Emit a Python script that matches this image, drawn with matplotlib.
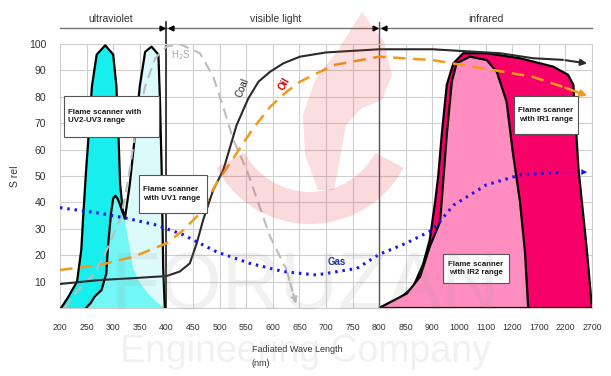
import numpy as np
import matplotlib
matplotlib.use('Agg')
import matplotlib.pyplot as plt
from matplotlib.patches import Wedge, Polygon, Rectangle

plt.rcParams['font.family'] = ['Liberation Sans', 'DejaVu Sans']

# x axis is not linear: every tick is one equal step
tick_nm = [200, 250, 300, 350, 400, 450, 500, 550, 600, 650, 700, 750, 800,
           850, 900, 1000, 1100, 1200, 1700, 2200, 2700]
y_ticks = [10, 20, 30, 40, 50, 60, 70, 80, 90, 100]

# UV2-UV3 scanner, first peak
uv23_nm = [202, 215, 232, 240, 244, 249, 254, 260, 269, 285, 300, 306, 310, 313, 318, 322]
uv23_val = [0, 4, 10, 22, 36, 52, 66, 84, 96, 99.5, 96, 84, 65, 47, 37, 34]
# UV2-UV3 scanner, second peak
uv23b_nm = [322, 331, 341, 350, 360, 372, 385, 388, 391, 394, 397]
uv23b_val = [34, 46.6, 65.5, 84, 97, 99, 96, 78, 53, 15, 0]
# UV1 scanner
uv1_nm = [249, 258, 265, 278, 287, 290, 296, 300, 304, 308, 312, 318, 322]
uv1_val = [0, 2, 4.3, 6.8, 13, 23, 36, 41.5, 42.5, 41.5, 39.6, 36, 34]
uv1_tail_nm = [322, 325, 331, 337, 347, 365, 384, 397]
uv1_tail_val = [34, 29.5, 23, 15.6, 10.6, 5.5, 1.8, 0]

# IR scanners
ir1_nm = [800, 839, 864, 883, 895, 910, 922, 935, 954, 979, 1016, 1104, 1346, 1973,
          2250, 2350, 2445, 2600, 2700]
ir1_val = [0, 3.7, 8, 16.9, 25.8, 40, 50, 65.5, 84.5, 92.7, 96.5, 96.5, 94.6, 91.4,
           88.3, 84.5, 52.9, 22.6, 0]
ir2_nm = [800, 852, 877, 895, 929, 954, 973, 991, 1041, 1104, 1142, 1179, 1210, 1346,
          1440, 1500]
ir2_val = [0, 5.5, 11.9, 23.2, 32.7, 65.5, 85.7, 92.7, 95.2, 93.9, 89.5, 78.1, 59.2,
           40.3, 21.3, 0]

# flame spectra
coal_nm = [200, 275, 338, 400, 425, 444, 457, 469, 488, 507, 532, 554, 573, 595, 620,
           651, 700, 800, 900, 1154, 1595, 2150, 2660]
coal_val = [9.1, 10.6, 11.3, 12.1, 13.8, 16.9, 24.5, 33.3, 44.7, 52.3, 69.3, 79.4,
            85.7, 89.5, 92.7, 95.2, 96.8, 98, 98, 96.5, 94.6, 94, 92.5]
oil_nm = [200, 275, 338, 400, 432, 463, 494, 513, 563, 595, 626, 651, 714, 800, 900,
          1090, 1580, 2150, 2660]
oil_val = [14.4, 16.3, 19.4, 24.5, 29.5, 35.9, 47.2, 52.9, 68, 76.2, 81.9, 85.7, 92,
           95.2, 93.9, 90.8, 87.6, 83.8, 80]
gas_nm = [200, 275, 325, 382, 432, 494, 557, 620, 682, 758, 800, 850, 900, 980, 1102,
          1345, 2080, 2660]
gas_val = [38, 35.9, 34, 31.4, 27.7, 21.3, 16.9, 13.8, 12.5, 15, 20.3, 24.5, 29.5, 39,
           46.6, 50.4, 51.4, 51.5]
h2s_nm = [209, 234, 265, 290, 315, 328, 341, 360, 379, 400, 425, 463, 488, 507, 526,
          551, 595, 626, 645]
h2s_val = [0, 6.8, 13, 23, 34.6, 48.5, 65.5, 84, 94.6, 99, 100, 96.5, 87.6, 76, 63.6,
           52.3, 27, 14.4, 0.5]


def pos(nm):
    return np.interp(nm, tick_nm, np.arange(len(tick_nm)))


fig = plt.figure(figsize=(6.11, 3.76), dpi=100)
ax = fig.add_axes([60 / 611, 1 - 308 / 376, 532 / 611, 264 / 376])
ax.set_xlim(0, 20)
ax.set_ylim(0, 100)

ax.set_xticks(np.arange(len(tick_nm)))
ax.set_xticklabels([str(t) for t in tick_nm], fontsize=6.3, color='#333333')
ax.set_yticks([0] + y_ticks)
ax.set_yticklabels([''] + [str(t) for t in y_ticks], fontsize=7.5, color='#333333')
ax.tick_params(axis='x', length=0, pad=11)
ax.tick_params(axis='y', length=0, pad=10)
ax.grid(True, color='#cfcfcf', lw=0.8)
ax.set_axisbelow(True)
for s in ax.spines.values():
    s.set_color('#cfcfcf')
    s.set_linewidth(0.8)

# UV fills
def poly(nm, val, **kw):
    xs = list(pos(nm))
    pts = list(zip(xs, val))
    ax.add_patch(Polygon(pts, closed=True, **kw))

pale_nm = [300] + uv23b_nm
pale_val = [0] + uv23b_val
poly(pale_nm, pale_val, facecolor='#dcfafa', edgecolor='none', zorder=2)
poly(uv23_nm + [322, 250], uv23_val + [0, 0], facecolor='#19eeee', edgecolor='none', zorder=2.1)
poly(uv1_nm + uv1_tail_nm[1:], uv1_val + uv1_tail_val[1:], facecolor='#72f6f6',
     edgecolor='none', zorder=2.2)
ax.plot(pos(uv23_nm + uv23b_nm[1:]), uv23_val + uv23b_val[1:], color='black', lw=1.6, zorder=3)
ax.plot(pos(uv1_nm), uv1_val, color='black', lw=1.6, zorder=3)

# IR fills
poly(ir1_nm, ir1_val, facecolor='#f8006a', edgecolor='black', lw=1.6, zorder=2)
poly(ir2_nm, ir2_val, facecolor='#ff8dbf', edgecolor='black', lw=1.6, zorder=2.1)

# boundary lines 400 / 800
ax.plot([4, 4], [0, 108.5], color='#222222', lw=1.2, clip_on=False, zorder=2.5)
ax.plot([12, 12], [0, 108.5], color='#555555', lw=1.0, clip_on=False, zorder=2.5)
ax.plot([0, 20], [106, 106], color='#777777', lw=1.0, clip_on=False)
for xb in [4, 12]:
    ax.plot([xb - 0.17], [106], marker='>', ms=3.5, color='black', clip_on=False)
    ax.plot([xb + 0.17], [106], marker='<', ms=3.5, color='black', clip_on=False)
for xl, txt in [(1.9, 'ultraviolet'), (8.1, 'visible light'), (16.0, 'infrared')]:
    ax.text(xl, 109.5, txt, ha='center', va='center', fontsize=7.5, color='#333333')

# spectra curves
ax.plot(pos(h2s_nm[:-1]), h2s_val[:-1], color='#bdbdbd', lw=1.5, ls=(0, (5, 3)), zorder=4)
ax.annotate('', xy=(pos(h2s_nm[-1]), h2s_val[-1]), xytext=(pos(h2s_nm[-2]), h2s_val[-2]),
            arrowprops=dict(arrowstyle='-|>', color='#bdbdbd', lw=1.5, ls='--',
                            mutation_scale=9), zorder=4)
ax.plot(pos(coal_nm[:-1]), coal_val[:-1], color='#2a2a2a', lw=1.5, zorder=5)
ax.annotate('', xy=(pos(coal_nm[-1]), coal_val[-1]), xytext=(pos(coal_nm[-2]), coal_val[-2]),
            arrowprops=dict(arrowstyle='-|>', color='#2a2a2a', lw=1.5, mutation_scale=9),
            zorder=5)
ax.plot(pos(oil_nm[:-1]), oil_val[:-1], color='#f39a1a', lw=1.8, ls=(0, (5, 3)), zorder=5)
ax.annotate('', xy=(pos(oil_nm[-1]), oil_val[-1]), xytext=(pos(oil_nm[-2]), oil_val[-2]),
            arrowprops=dict(arrowstyle='-|>', color='#f39a1a', lw=1.8, mutation_scale=9),
            zorder=5)
ax.plot(pos(gas_nm[:-1]), gas_val[:-1], color='#1414f0', lw=2.2, ls=(0, (0.8, 1.6)), zorder=5)
ax.annotate('', xy=(pos(gas_nm[-1]), gas_val[-1]), xytext=(pos(gas_nm[-2]), gas_val[-2]),
            arrowprops=dict(arrowstyle='-|>', color='#1414f0', lw=0.1, mutation_scale=10),
            zorder=5)

# curve labels
ax.text(4.55, 95.8, 'H$_2$S', fontsize=7, color='#a9a9a9', ha='center', va='center')
ax.text(6.85, 83.5, 'Coal', fontsize=7, color='#222222', rotation=68, ha='center', va='center')
ax.text(8.45, 85, 'Oil', fontsize=7, color='#cc0000', rotation=60, ha='center', va='center',
        fontweight='bold')
ax.text(10.4, 17.5, 'Gas', fontsize=7, color='#1a2ea0', ha='center', va='center',
        fontweight='bold')

ax.set_ylabel('S rel', fontsize=7.5, color='#333333', labelpad=6)
fig.text(252 / 611, 1 - 349 / 376, 'Fadiated Wave Length', fontsize=6.5, color='#333333',
         va='center')
fig.text(252 / 611, 1 - 363 / 376, '(nm)', fontsize=6.5, color='#333333', va='center')

# scanner label boxes, in pixel coordinates
pix = fig.add_axes([0, 0, 1, 1], zorder=5)
pix.set_xlim(0, 611)
pix.set_ylim(376, 0)
pix.axis('off')
pix.patch.set_alpha(0)
boxes = [((64, 96, 159, 137), 'Flame scanner with\nUV2-UV3 range', 'left'),
         ((139, 175, 207, 213), 'Flame scanner\nwith UV1 range', 'left'),
         ((514, 96, 578, 134), 'Flame scanner\nwith IR1 range', 'center'),
         ((443, 254, 509, 283), 'Flame scanner\nwith IR2 range', 'center')]
for (x0, y0, x1, y1), txt, al in boxes:
    pix.add_patch(Rectangle((x0, y0), x1 - x0, y1 - y0, facecolor='white',
                            edgecolor='#555555', lw=0.8))
    tx = x0 + 4 if al == 'left' else (x0 + x1) / 2
    pix.text(tx, (y0 + y1) / 2, txt, fontsize=5.7, fontweight='bold', ha=al,
             va='center', linespacing=1.3, color='#1a1a1a')

# watermark overlay
ov = fig.add_axes([0, 0, 1, 1], zorder=10)
ov.set_xlim(0, 611)
ov.set_ylim(376, 0)
ov.axis('off')
ov.patch.set_alpha(0)
ov.add_patch(Wedge((310, 118), 106, 28, 152, width=32, facecolor='#e8262b', alpha=0.17,
                   edgecolor='none'))
flame = [(318, 190), (305, 155), (303, 115), (315, 80), (338, 50), (362, 12), (384, 42),
         (392, 75), (382, 100), (362, 108), (346, 125), (340, 158), (334, 190)]
ov.add_patch(Polygon(flame, closed=True, facecolor='#e8262b', alpha=0.15, edgecolor='none'))
ov.text(305, 288, 'FORUZAN', fontsize=58, color='#9a9a9a', alpha=0.13, ha='center',
        va='center')
ov.text(305, 352, 'Engineering Company', fontsize=27, color='#9a9a9a', alpha=0.13,
        ha='center', va='center')

fig.savefig('out.png', dpi=100)
